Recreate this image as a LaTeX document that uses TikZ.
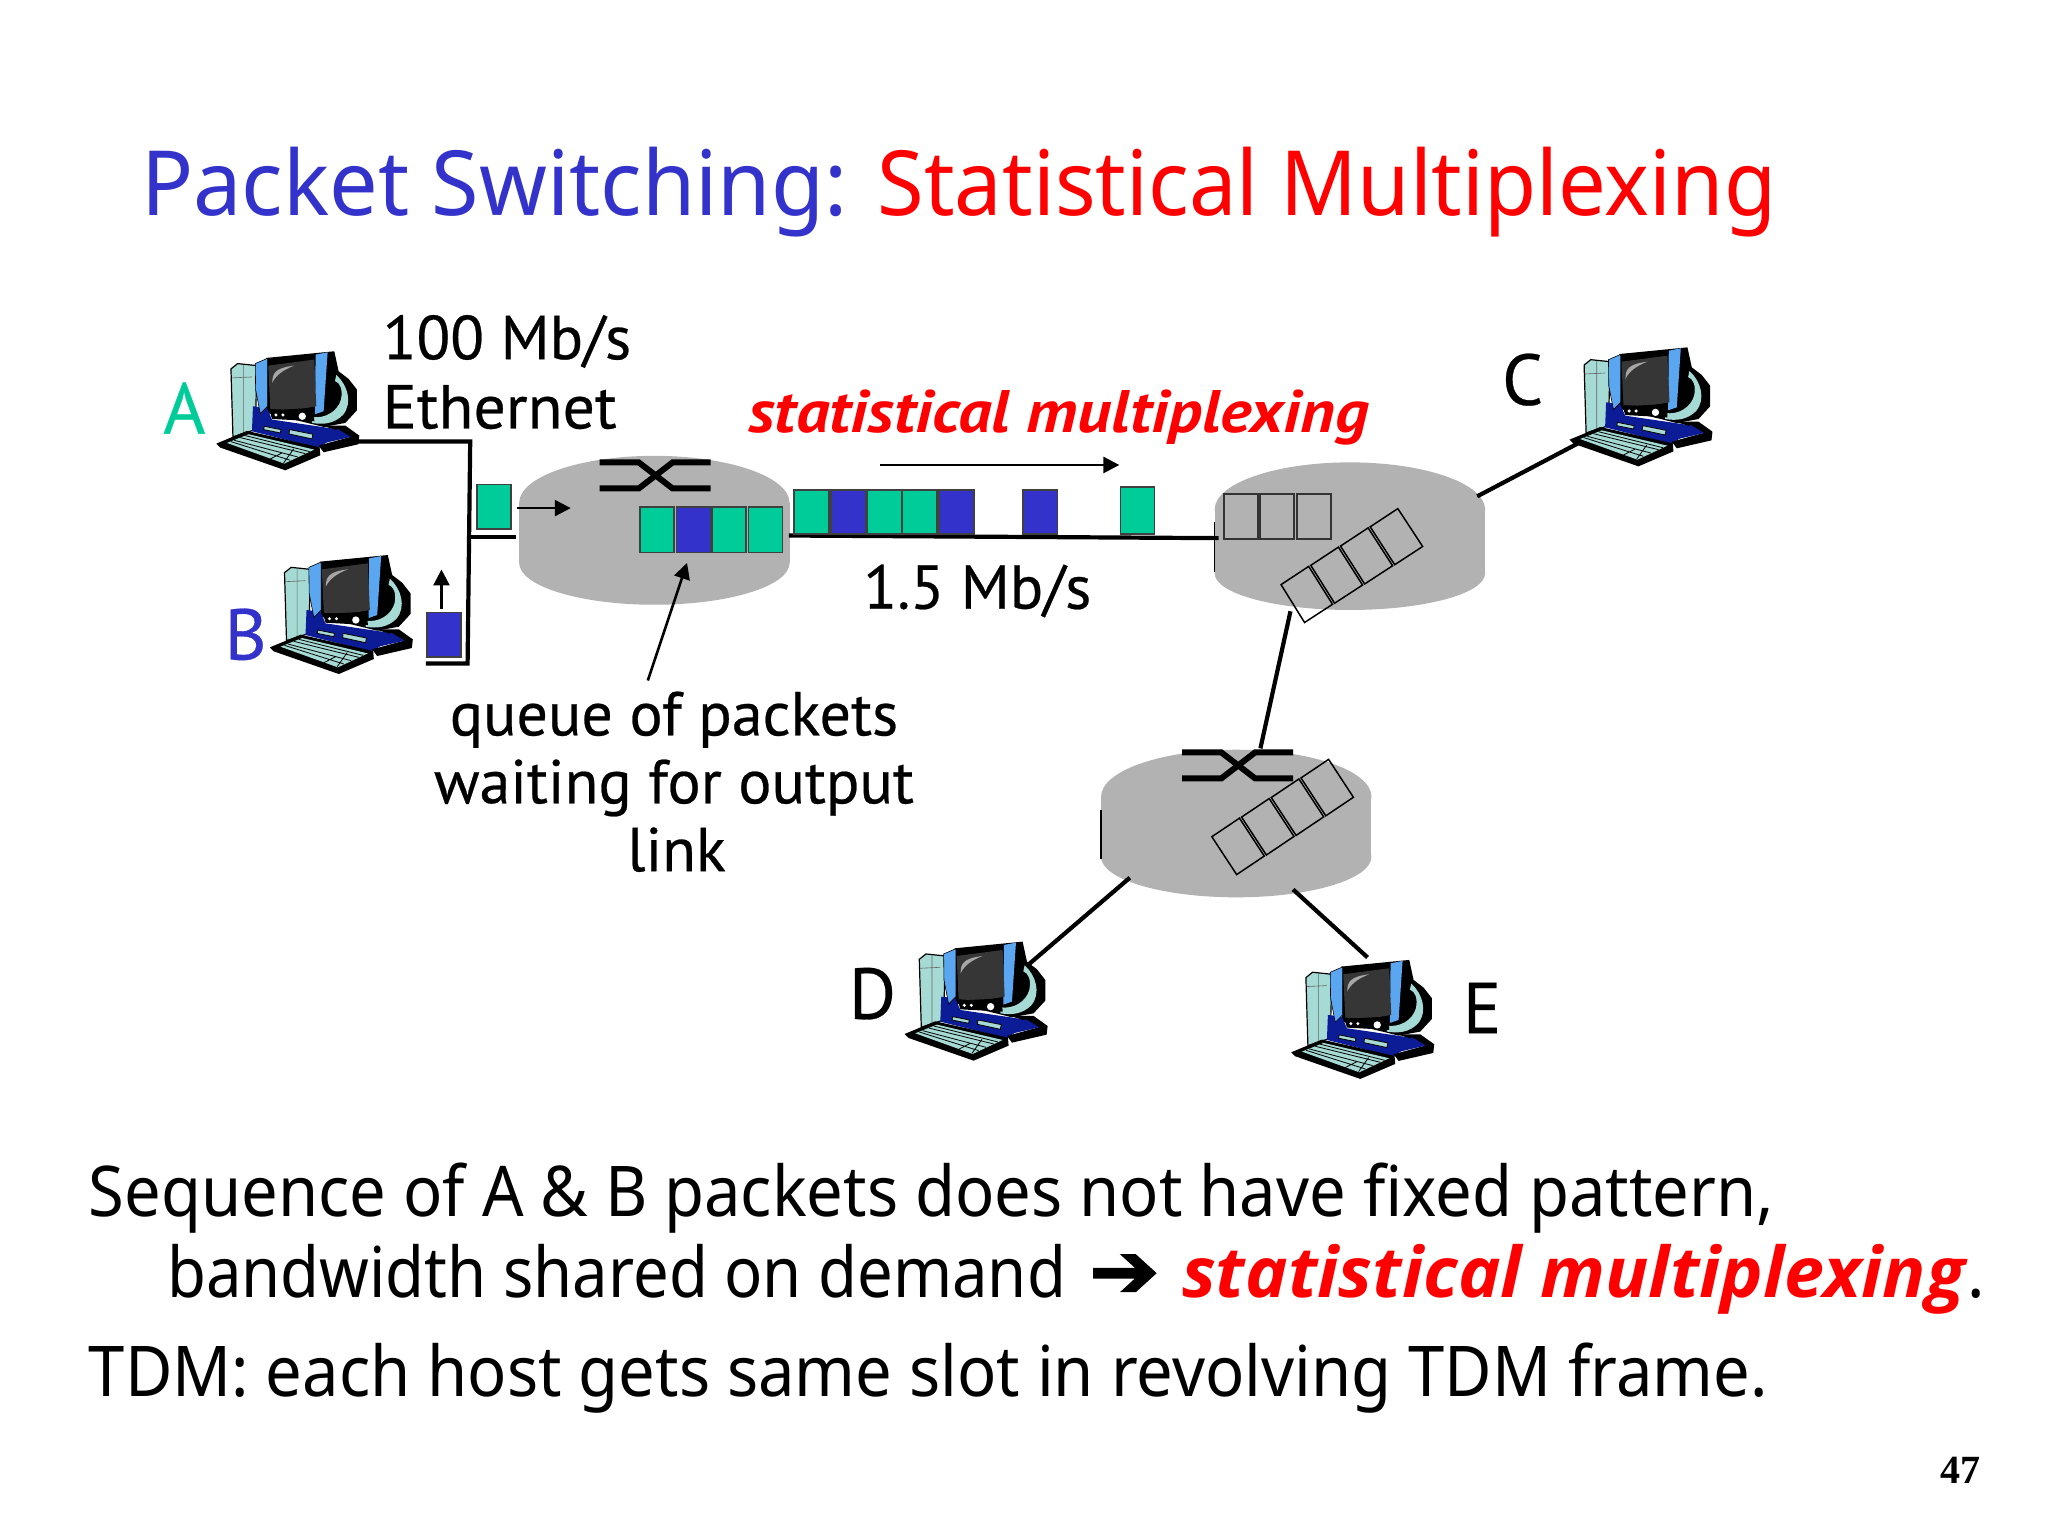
\documentclass[tikz,border=0pt]{standalone}
\usepackage{fontspec}
\usetikzlibrary{arrows.meta}
\setmainfont{Noto Sans}
\newfontfamily\ttl[FakeStretch=0.96]{Noto Sans}
\newfontfamily\ttlr[FakeStretch=0.943]{Noto Sans}
\newfontfamily\bdy[FakeStretch=0.93]{Noto Sans}
\newfontfamily\bdyb[FakeStretch=0.905]{Noto Sans}
\newfontfamily\bdyred[FakeStretch=1.025]{Open Sans}
\newfontfamily\comic[FakeBold=0.4]{PT Sans}
\newfontfamily\comicw[FakeStretch=1.03,FakeBold=0.4]{PT Sans}
\newfontfamily\comicred[FakeStretch=1.11]{PT Sans}
\newfontfamily\sym[FakeBold=2.5,FakeStretch=1.1]{DejaVu Sans}
\newfontfamily\pagefont{Liberation Serif}
\definecolor{pgreen}{HTML}{00CC99}
\definecolor{pblue}{HTML}{3333CC}
\definecolor{pred}{HTML}{FF0000}
\definecolor{rgray}{HTML}{B2B2B2}
\definecolor{teal1}{HTML}{A6DAD4}
\definecolor{blue1}{HTML}{5AA6F0}
\definecolor{navy1}{HTML}{0C1C96}
\definecolor{screen1}{HTML}{363636}
\tikzset{
  lbl/.style={anchor=base west,inner sep=0pt,outer sep=0pt},
  titlefont/.style={font=\ttl\fontsize{45}{45}\selectfont},
  titlefontr/.style={font=\ttlr\fontsize{45}{45}\selectfont},
  bodyfont/.style={font=\bdy\fontsize{35}{35}\selectfont},
  cfont/.style={font=\comic\fontsize{31}{31}\selectfont},
  cwfont/.style={font=\comicw\fontsize{31}{31}\selectfont},
  letterfont/.style={font=\comic\fontsize{36}{36}\selectfont},
  link/.style={line width=2.1pt,black},
  thin link/.style={line width=0.7pt,black},
  thinarrow/.style={line width=1.3pt,black,-{Triangle[length=8pt,width=8pt]}},
  pkt/.style={draw=black!75,line width=0.8pt},
  cell/.style={draw=black,line width=0.75pt},
  emptypkt/.style={draw=black!80,line width=1pt},
  switchline/.style={line width=3pt,black},
}
\newcommand{\cmpt}[2]{%
\begin{scope}[shift={(#1,#2)},x=0.16667pt,y=-0.16667pt]
  % tower
  \filldraw[fill=teal1,draw=black,line width=0.6pt] (62,88) -- (82,72) -- (140,78) -- (135,270) -- (68,292) -- cycle;
  \draw[black!60,line width=0.3pt] (64,115) -- (125,112) (100,76) -- (100,280);
  % monitor back
  \fill[black] (168,55) -- (372,35) -- (385,95) -- (415,118) -- (440,150) -- (440,212) -- (405,250) -- (340,262) -- (170,220) -- cycle;
  % crescent
  \fill[teal1] (378,106) .. controls (412,136) and (428,190) .. (398,226) .. controls (372,252) and (340,256) .. (305,250) -- (305,232) .. controls (345,238) and (382,215) .. (392,180) .. controls (398,150) and (390,130) .. (374,124) -- cycle;
  % base
  \fill[navy1] (128,200) -- (170,205) -- (185,240) -- (335,262) -- (400,272) -- (325,325) -- (125,275) -- cycle;
  \fill[black] (335,258) -- (405,258) -- (447,288) -- (444,314) -- (340,338) -- (325,318) -- (420,292) -- (380,272) -- cycle;
  \fill[navy1] (335,296) -- (382,268) -- (422,292) -- (335,312) -- cycle;
  % ledges
  \filldraw[fill=teal1,draw=black,line width=0.4pt] (162,260) -- (212,270) -- (210,280) -- (160,270) -- cycle;
  \filldraw[fill=teal1,draw=black,line width=0.4pt] (238,270) -- (308,284) -- (305,298) -- (236,283) -- cycle;
  % keyboard
  \fill[black] (18,312) -- (110,274) -- (328,323) -- (330,347) -- (225,392) -- (30,324) -- cycle;
  \fill[teal1] (50,310) -- (115,284) -- (312,330) -- (222,372) -- cycle;
  \draw[black,line width=0.4pt] (72,302) -- (262,352) (90,294) -- (285,342) (105,288) -- (298,336) (62,306) -- (240,362) (215,340) -- (180,358) (250,328) -- (220,370);
  % frames
  \filldraw[fill=blue1,draw=black,line width=0.3pt] (135,72) -- (172,56) -- (172,200) -- (150,222) -- (136,150) -- cycle;
  \fill[blue1] (316,45) -- (352,38) -- (340,215) -- (314,224) -- cycle;
  % screen
  \fill[screen1] (174,78) -- (312,60) -- (318,200) -- (248,212) -- (180,208) -- cycle;
  \fill[black!35] (186,130) .. controls (186,100) and (195,85) .. (252,78) .. controls (215,92) and (195,110) .. (186,130) -- cycle;
  % bezel
  \fill[black] (178,212) -- (310,205) -- (312,245) -- (185,238) -- cycle;
  \fill[white] (197,226) circle[radius=5] (218,226) circle[radius=5] (276,230) circle[radius=11];
\end{scope}}
\newcommand{\routerbody}[4]{% cx, top centre y, bottom centre y, ry bottom
  \fill[rgray] (#1,#2) ellipse[x radius=103.5,y radius=36];
  \fill[rgray] (#1,#3) ellipse[x radius=103.5,y radius=#4];
  \fill[rgray] ({#1-103.5},#2) rectangle ({#1+103.5},#3);
}
\newcommand{\switchsym}[2]{% left x, top y
  \draw[switchline] (#1,#2) -- ++(30,0) -- ++(26,20) -- ++(29,0);
  \draw[switchline] (#1,{#2+20}) -- ++(30,0) -- ++(26,-20) -- ++(29,0);
}
\begin{document}
\begin{tikzpicture}[x=0.65306pt,y=-0.65306pt]
\useasboundingbox (0,0) rectangle (1568,1176);
\fill[white] (0,0) rectangle (1568,1176);

% title
\node[lbl,titlefont,text=pblue] (t1) at (108,165) {Packet Switching:};
\node[lbl,titlefontr,text=pred] (t2) at (672,165) {Statistical Multiplexing};

% routers
\routerbody{501}{385}{431}{32}
\routerbody{1033.5}{390}{439}{28}
\routerbody{946.5}{610}{656}{31}
\draw[thin link] (930,400) -- (930,438);
\draw[thin link] (843,620) -- (843,658);
\switchsym{459}{354}
\switchsym{905}{576}

% router 1 queue
\foreach \x/\c in {490/pgreen,518/pblue,545/pgreen,573/pgreen}
  \filldraw[pkt,fill=\c] (\x,388) rectangle ({\x+26},423);

% router 2 queue
\foreach \x in {937,965,993}
  \draw[emptypkt] (\x,378) rectangle ({\x+26},413);

% diagonal queues
\foreach \i in {0,1,2,3}{
  \draw[cell] ({980+\i*22.75+0.8},{448-\i*14.75-0.4}) -- ({980+(\i+1)*22.75-0.8},{448-(\i+1)*14.75+0.4}) -- ({998+(\i+1)*23-0.8},{477-(\i+1)*14.75+0.4}) -- ({998+\i*23+0.8},{477-\i*14.75-0.4}) -- cycle;
  \draw[cell] ({927+\i*22.75+0.8},{641-\i*15-0.4}) -- ({927+(\i+1)*22.75-0.8},{641-(\i+1)*15+0.4}) -- ({946+(\i+1)*22.75-0.8},{670-(\i+1)*15+0.4}) -- ({946+\i*22.75+0.8},{670-\i*15-0.4}) -- cycle;
}

% computers
\cmpt{161}{260}
\cmpt{202}{416}
\cmpt{1197}{257}
\cmpt{688}{712}
\cmpt{984}{726}

% connector end points
\coordinate (hostA) at (274,338);
\coordinate (hostB) at (326,508);
\coordinate (hostC) at (1209,339);
\coordinate (hostD) at (788,738);
\coordinate (hostE) at (1047,733);
\coordinate (rOneIn) at (395,411);
\coordinate (rOneOut) at (604,410);
\coordinate (rTwoIn) at (933,412);
\coordinate (rTwoC) at (1131,380);
\coordinate (rTwoDown) at (988,468);
\coordinate (rThreeUp) at (965,573);
\coordinate (rThreeD) at (865,672);
\coordinate (rThreeE) at (990,681);
\coordinate (cornerA) at (360,338);
\coordinate (cornerB) at (358,508);
\coordinate (junction) at (359,411);

% links
\draw[link,line join=miter] (hostA) -- (cornerA) -- (cornerB) -- (hostB);
\draw[link] (junction) -- (rOneIn);
\draw[link] (rOneOut) -- (rTwoIn);
\draw[link] (rTwoC) -- (hostC);
\draw[link] (rTwoDown) -- (rThreeUp);
\draw[link] (rThreeD) -- (hostD);
\draw[link] (rThreeE) -- (hostE);

% moving packets
\foreach \x/\c in {608/pgreen,636/pblue,664/pgreen,691/pgreen,719/pblue,783/pblue}
  \filldraw[pkt,fill=\c] (\x,375) rectangle ({\x+26.5},409);
\filldraw[pkt,fill=pgreen] (858,373) rectangle (884,409);
\filldraw[pkt,fill=pgreen] (365,371) rectangle (391,405);
\filldraw[pkt,fill=pblue] (327,469) rectangle (353,503);

% small arrows
\coordinate (aOneS) at (396,389); \coordinate (aOneE) at (437,389);
\coordinate (aTwoS) at (338,466); \coordinate (aTwoE) at (338,436);
\coordinate (aThreeS) at (674,356); \coordinate (aThreeE) at (857,356);
\coordinate (aFourS) at (496,521); \coordinate (aFourE) at (526,431);
\draw[thinarrow] (aOneS) -- (aOneE);
\draw[thinarrow] (aTwoS) -- (aTwoE);
\draw[thinarrow] (aThreeS) -- (aThreeE);
\draw[thinarrow] (aFourS) -- (aFourE);

% diagram labels
\node[lbl,letterfont,text=pgreen] (la) at (125,332) {A};
\node[lbl,letterfont,text=pblue] (lb) at (172,505) {B};
\node[lbl,letterfont] (lc) at (1150,310) {C};
\node[lbl,letterfont] (ld) at (650,780) {D};
\node[lbl,letterfont] (le) at (1120,791) {E};
\node[lbl,cfont] (sp) at (293,275) {100 Mb/s};
\node[lbl,cwfont] (eth) at (293,328) {Ethernet};
\node[lbl,font=\comicred\bfseries\itshape\fontsize{30}{30}\selectfont,text=pred] (sm) at (573,331) {statistical multiplexing};
\node[lbl,cfont] (rate) at (661,466) {1.5 Mb/s};
\node[cfont,inner sep=0pt,anchor=base] (q1) at (516,563) {queue of packets};
\node[cfont,inner sep=0pt,anchor=base] (q2) at (516,615) {waiting for output};
\node[cfont,inner sep=0pt,anchor=base] (q3) at (518,667) {link};

% body text
\node[lbl,bodyfont] (b1) at (68,931) {Sequence of A \& B packets does not have fixed pattern,};
\node[lbl,font=\bdyb\fontsize{35}{35}\selectfont] (b2) at (128,993) {bandwidth shared on demand};
\node[lbl,font=\sym\bfseries\fontsize{38}{38}\selectfont] (b3) at (834,993) {➔};
\node[lbl,font=\bdyred\bfseries\itshape\fontsize{35}{35}\selectfont,text=pred] (b4) at (905,993) {statistical multiplexing};
\node[lbl,bodyfont] (b5) at (1506,993) {.};
\node[lbl,bodyfont] (b6) at (68,1069) {TDM: each host gets same slot in revolving TDM frame.};
\node[lbl,font=\pagefont\bfseries\fontsize{20}{20}\selectfont] (pg) at (1486,1136) {47};
\end{tikzpicture}
\end{document}
